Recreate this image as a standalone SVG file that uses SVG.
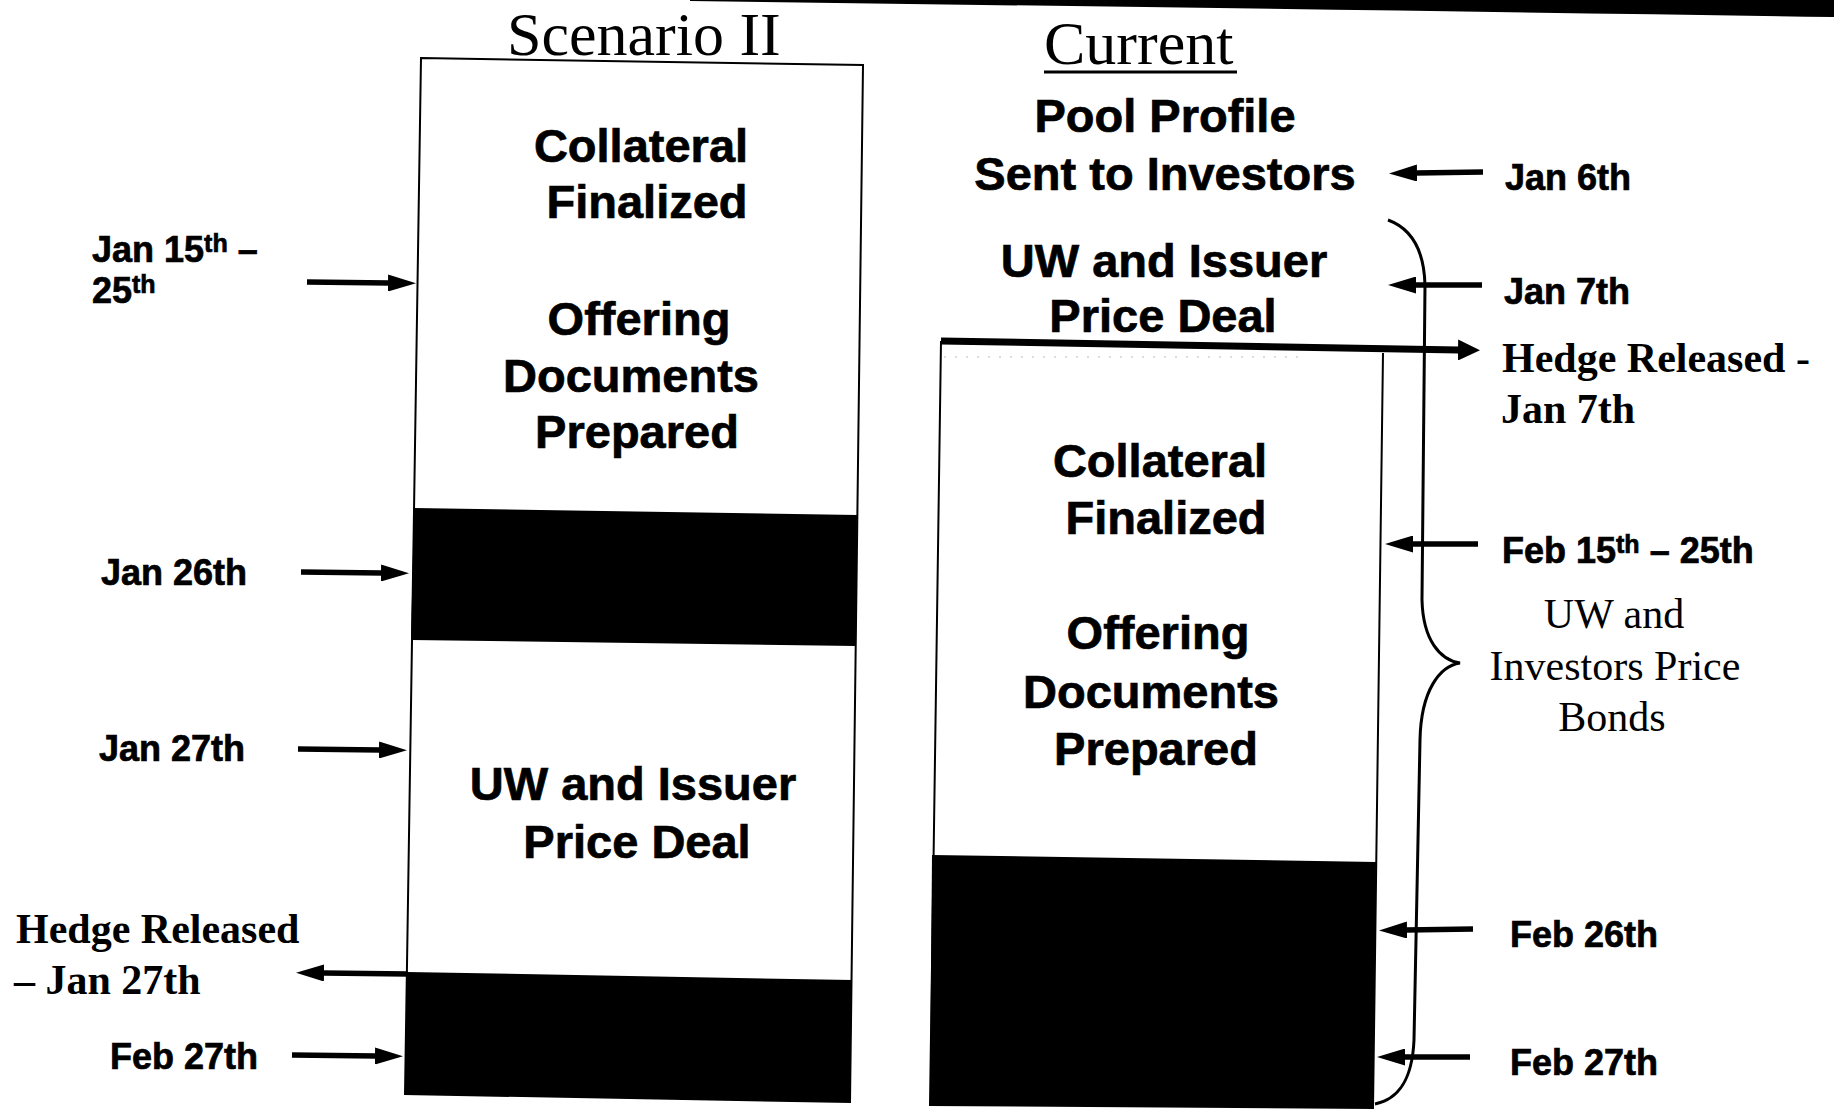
<svg xmlns="http://www.w3.org/2000/svg" width="1834" height="1111" viewBox="0 0 1834 1111">
<defs>
<marker id="ah" markerUnits="userSpaceOnUse" markerWidth="28" markerHeight="17" viewBox="0 0 28 17" refX="1" refY="8.5" orient="auto"><path d="M0,0 L28,8.5 L0,17 Z" fill="#000"/></marker>
<marker id="ahBig" markerUnits="userSpaceOnUse" markerWidth="22" markerHeight="21" viewBox="0 0 22 21" refX="1" refY="10.5" orient="auto"><path d="M0,0 L22,10.5 L0,21 Z" fill="#000"/></marker>
</defs>
<style>
.sans{font-family:"Liberation Sans",Arial,sans-serif;font-weight:bold;fill:#000;stroke:#000;stroke-width:0.7px}
.box{font-size:47px;text-anchor:middle}
.date{font-size:36px}
.sup{font-size:25px}
.serif{font-family:"Liberation Serif","Times New Roman",serif;fill:#000}
.title{font-size:62px}
.hedge{font-size:42px;font-weight:bold}
.note{font-size:42px;text-anchor:middle}
.edge{fill:none;stroke:#000;stroke-width:2}
.band{fill:#000}
.arr{stroke:#000;stroke-width:5.5;fill:none;marker-end:url(#ah)}
.arrBig{stroke:#000;stroke-width:7;fill:none;marker-end:url(#ahBig)}
</style>
<rect x="0" y="0" width="1834" height="1111" fill="#fff"/>
<path d="M690,0 L1834,0 L1834,17 Q1300,9 690,1 Z" fill="#000"/>

<g id="scenario-title">
<text class="serif title" x="507" y="55">Scenario II</text>
</g>

<g id="scenario-box">
<polygon points="421,58 863,65 850,1102 405,1094" fill="#fff" stroke="#000" stroke-width="2"/>
<polygon class="band" points="414,508 857,515 856,646 411,640"/>
<polygon class="band" points="407,972 852,980 850,1102 405,1094"/>
<text class="sans box" x="641" y="162">Collateral</text>
<text class="sans box" x="647" y="218">Finalized</text>
<text class="sans box" x="639" y="335">Offering</text>
<text class="sans box" x="631" y="392">Documents</text>
<text class="sans box" x="637" y="448">Prepared</text>
<text class="sans box" x="633" y="800">UW and Issuer</text>
<text class="sans box" x="637" y="858">Price Deal</text>
</g>

<g id="scenario-labels">
<text class="sans date" x="92" y="262">Jan 15<tspan class="sup" dy="-10">th</tspan><tspan dy="10"> –</tspan></text>
<text class="sans date" x="92" y="303">25<tspan class="sup" dy="-10">th</tspan></text>
<text class="sans date" x="101" y="585">Jan 26th</text>
<text class="sans date" x="99" y="761">Jan 27th</text>
<text class="serif hedge" x="16" y="943">Hedge Released</text>
<text class="serif hedge" x="14" y="994">– Jan 27th</text>
<text class="sans date" x="110" y="1069">Feb 27th</text>
</g>

<g id="current-title">
<text class="serif title" x="1044" y="64">Current</text>
<line x1="1044" y1="72" x2="1237" y2="72" stroke="#000" stroke-width="3"/>
</g>

<g id="pool-profile">
<text class="sans box" x="1165" y="132">Pool Profile</text>
<text class="sans box" x="1165" y="190">Sent to Investors</text>
</g>

<g id="uw-issuer">
<text class="sans box" x="1164" y="277">UW and Issuer</text>
<text class="sans box" x="1163" y="332">Price Deal</text>
</g>

<g id="current-box">
<path class="edge" d="M941,341 L930,1105 L1373,1108 L1383,353"/>
<line x1="944" y1="357" x2="1300" y2="357" stroke="#bbb" stroke-width="1" stroke-dasharray="2 9"/>
<polygon class="band" points="932,855 1376,862 1373,1108 930,1105"/>
<text class="sans box" x="1160" y="477">Collateral</text>
<text class="sans box" x="1166" y="534">Finalized</text>
<text class="sans box" x="1158" y="649">Offering</text>
<text class="sans box" x="1151" y="708">Documents</text>
<text class="sans box" x="1156" y="765">Prepared</text>
</g>

<g id="brace">
<path d="M1388,220 C1410,228 1424,248 1425,285 L1422,600 C1423,640 1440,660 1460,663 C1440,666 1421,690 1420,740 L1414,1040 C1412,1085 1395,1100 1375,1104" fill="none" stroke="#000" stroke-width="3"/>
</g>

<g id="current-labels">
<text class="sans date" x="1505" y="190">Jan 6th</text>
<text class="sans date" x="1504" y="304">Jan 7th</text>
<text class="serif hedge" x="1502" y="372">Hedge Released -</text>
<text class="serif hedge" x="1501" y="423">Jan 7th</text>
<text class="sans date" x="1502" y="563">Feb 15<tspan class="sup" dy="-10">th</tspan><tspan dy="10"> – 25th</tspan></text>
<text class="serif note" x="1614" y="628">UW and</text>
<text class="serif note" x="1615" y="680">Investors Price</text>
<text class="serif note" x="1612" y="731">Bonds</text>
<text class="sans date" x="1510" y="947">Feb 26th</text>
<text class="sans date" x="1510" y="1075">Feb 27th</text>
</g>

<g id="connectors">
<path class="arr" d="M307,282 L389,283"/>
<path class="arr" d="M301,572 L382,573"/>
<path class="arr" d="M298,749 L380,750"/>
<path class="arr" d="M408,974 L323,973"/>
<path class="arr" d="M292,1055 L376,1056"/>
<path class="arr" d="M1483,172 L1416,173"/>
<path class="arr" d="M1482,285 L1415,285"/>
<path class="arrBig" d="M941,341 L1459,350"/>
<path class="arr" d="M1478,544 L1412,544"/>
<path class="arr" d="M1473,929 L1406,930"/>
<path class="arr" d="M1470,1057 L1404,1057"/>
</g>
</svg>
